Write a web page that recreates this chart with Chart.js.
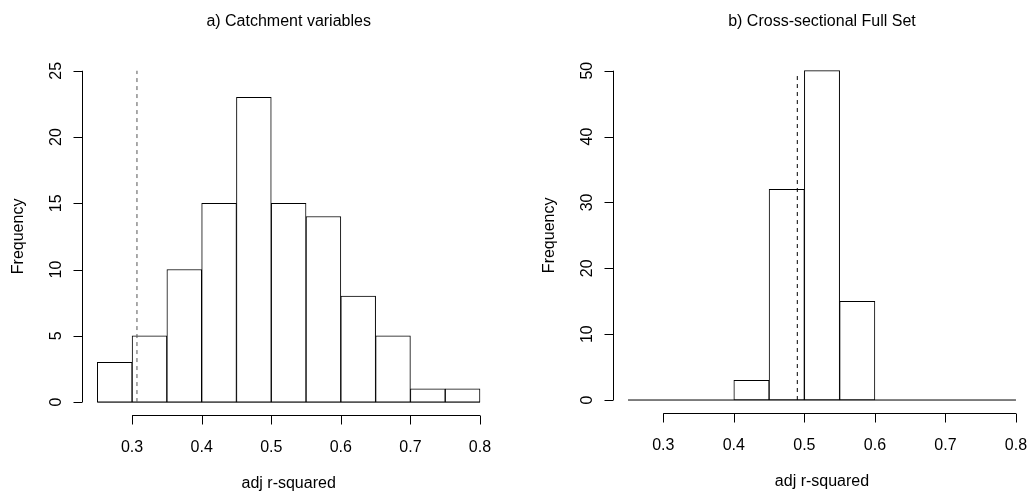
<!DOCTYPE html>
<html>
<head>
<meta charset="utf-8">
<title>adj r-squared histograms</title>
<script src="https://cdn.jsdelivr.net/npm/chart.js@4.4.1/dist/chart.umd.min.js"></script>
<style>
  html, body { margin: 0; padding: 0; background: #fff; overflow: hidden; }
  body { width: 1028px; height: 492px; position: relative; }
  .panel { position: absolute; top: 0; height: 492px; }
  #panelA { left: 0; width: 514px; }
  #panelB { left: 514px; width: 530px; }
</style>
</head>
<body>
<div class="panel" id="panelA"><canvas id="chartA"></canvas></div>
<div class="panel" id="panelB"><canvas id="chartB"></canvas></div>

<script>
// Histogram data (bin edges shared by both panels)
const binEdges = [0.25, 0.30, 0.35, 0.40, 0.45, 0.50, 0.55, 0.60, 0.65, 0.70, 0.75, 0.80];
const catchmentCounts = [3, 5, 10, 15, 23, 15, 14, 8, 5, 1, 1];
const crossSectionalCounts = [0, 0, 0, 3, 32, 50, 15, 0, 0, 0, 0];

// Axis ticks
const xTicks = [0.3, 0.4, 0.5, 0.6, 0.7, 0.8];
const catchmentYTicks = [0, 5, 10, 15, 20, 25];
const crossSectionalYTicks = [0, 10, 20, 30, 40, 50];

// Dashed reference lines (x position, top)
const catchmentRef = [0.307, 25];
const crossSectionalRef = [0.49, 49.5];

const FONT = '"Liberation Sans", Arial, Helvetica, sans-serif';
const FONT_SIZE = 16;

// R-style axes, tick labels and titles drawn from the chart's scales
const rAxesPlugin = {
  id: 'rAxes',
  afterDraw(chart, args, opts) {
    const ctx = chart.ctx;
    const area = chart.chartArea;
    const xs = chart.scales.x;
    const ys = chart.scales.y;
    const tickLen = 9;

    ctx.save();
    ctx.strokeStyle = '#000';
    ctx.fillStyle = '#000';
    ctx.lineWidth = 1;
    ctx.font = `${FONT_SIZE}px ${FONT}`;

    // x axis
    const xAxisY = Math.round(area.bottom) + 0.5;
    ctx.beginPath();
    ctx.moveTo(xs.getPixelForValue(opts.xTicks[0]), xAxisY);
    ctx.lineTo(xs.getPixelForValue(opts.xTicks[opts.xTicks.length - 1]), xAxisY);
    opts.xTicks.forEach(t => {
      const px = Math.round(xs.getPixelForValue(t)) + 0.5;
      ctx.moveTo(px, xAxisY);
      ctx.lineTo(px, xAxisY + tickLen);
    });
    ctx.stroke();
    ctx.textAlign = 'center';
    ctx.textBaseline = 'middle';
    opts.xTicks.forEach(t => {
      ctx.fillText(t.toFixed(1), xs.getPixelForValue(t), area.bottom + 32);
    });

    // y axis
    const yAxisX = Math.round(area.left) + 0.5;
    ctx.beginPath();
    ctx.moveTo(yAxisX, ys.getPixelForValue(opts.yTicks[0]));
    ctx.lineTo(yAxisX, ys.getPixelForValue(opts.yTicks[opts.yTicks.length - 1]));
    opts.yTicks.forEach(t => {
      const py = Math.round(ys.getPixelForValue(t)) + 0.5;
      ctx.moveTo(yAxisX, py);
      ctx.lineTo(yAxisX - tickLen, py);
    });
    ctx.stroke();
    opts.yTicks.forEach(t => {
      ctx.save();
      ctx.translate(area.left - 25, ys.getPixelForValue(t));
      ctx.rotate(-Math.PI / 2);
      ctx.fillText(String(t), 0, 0);
      ctx.restore();
    });

    // axis titles
    const midX = (area.left + area.right) / 2;
    const midY = (area.top + area.bottom) / 2;
    ctx.fillText(opts.xTitle, midX, area.bottom + 68);
    ctx.save();
    ctx.translate(area.left - 63, midY);
    ctx.rotate(-Math.PI / 2);
    ctx.fillText(opts.yTitle, 0, 0);
    ctx.restore();

    // main title
    ctx.fillText(opts.title, midX, 22);
    ctx.restore();
  }
};

function makeHistogram(canvasId, counts, yTicks, ref, refColor, title, padding) {
  const bars = counts.map((c, i) => ({ x: (binEdges[i] + binEdges[i + 1]) / 2, y: c }));
  const xLo = binEdges[0], xHi = binEdges[binEdges.length - 1];
  const xPad = (xHi - xLo) * 0.04;
  const yHi = yTicks[yTicks.length - 1];
  const yPad = yHi * 0.04;

  return new Chart(document.getElementById(canvasId), {
    type: 'bar',
    data: {
      datasets: [
        {
          type: 'line',
          data: [{ x: xLo, y: 0 }, { x: xHi, y: 0 }],
          borderColor: '#000',
          borderWidth: 1,
          pointRadius: 0,
          order: 2
        },
        {
          data: bars,
          backgroundColor: '#fff',
          borderColor: '#000',
          borderWidth: 1,
          borderSkipped: false,
          barPercentage: 1,
          categoryPercentage: 1,
          order: 1
        },
        {
          type: 'line',
          data: [{ x: ref[0], y: 0 }, { x: ref[0], y: ref[1] }],
          borderColor: refColor,
          borderWidth: 1,
          borderDash: [4, 4],
          pointRadius: 0,
          order: 0
        }
      ]
    },
    options: {
      responsive: true,
      maintainAspectRatio: false,
      animation: false,
      layout: { padding: padding },
      scales: {
        x: { type: 'linear', offset: false, min: xLo - xPad, max: xHi + xPad, display: false },
        y: { min: -yPad, max: yHi + yPad, display: false }
      },
      plugins: {
        legend: { display: false },
        tooltip: { enabled: false },
        rAxes: {
          xTicks: xTicks,
          yTicks: yTicks,
          title: title,
          xTitle: 'adj r-squared',
          yTitle: 'Frequency'
        }
      }
    },
    plugins: [rAxesPlugin]
  });
}

makeHistogram('chartA', catchmentCounts, catchmentYTicks, catchmentRef, '#555',
  'a) Catchment variables', { left: 82, right: 18.7, top: 57.5, bottom: 76.7 });
makeHistogram('chartB', crossSectionalCounts, crossSectionalYTicks, crossSectionalRef, '#000',
  'b) Cross-sectional Full Set', { left: 98.5, right: 12.5, top: 57.5, bottom: 78.8 });
</script>
</body>
</html>
